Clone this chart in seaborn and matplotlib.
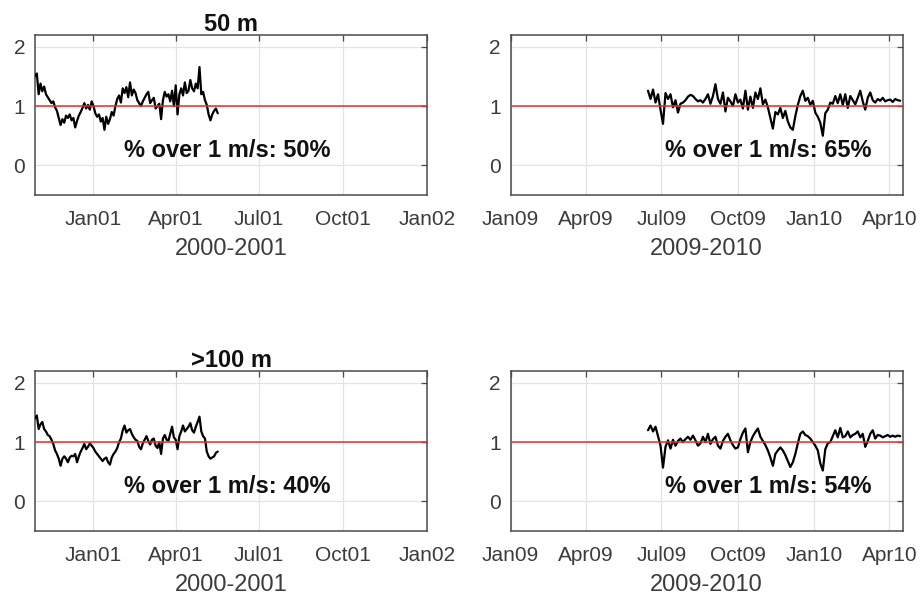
import numpy as np
import pandas as pd
import matplotlib
matplotlib.use("Agg")
import matplotlib.pyplot as plt
import matplotlib.dates as mdates
import seaborn as sns

# ---- data -----------------------------------------------------------------
# Current speed (m/s), 2000-2001 deployment, sampled every 2 days
start_2000 = "2000-10-29"
speed_50m_2000 = [
    1.50, 1.55, 1.20, 1.38, 1.25, 1.33, 1.20, 1.15, 1.10, 1.05,
    1.08, 0.98, 0.92, 0.80, 0.68, 0.78, 0.72, 0.84, 0.80, 0.86,
    0.76, 0.80, 0.64, 0.75, 0.84, 0.90, 0.97, 1.05, 0.96, 1.02,
    0.94, 1.08, 1.00, 0.88, 0.82, 0.86, 0.74, 0.80, 0.60, 0.82,
    0.70, 0.78, 0.90, 0.84, 1.00, 1.12, 1.18, 1.06, 1.30, 1.22,
    1.32, 1.15, 1.40, 1.18, 1.28, 1.22, 1.10, 1.05, 1.00, 1.08,
    1.14, 1.20, 1.24, 1.05, 1.10, 1.14, 0.96, 1.00, 1.04, 0.78,
    1.10, 1.24, 1.16, 1.20, 1.08, 1.26, 1.00, 1.35, 0.86, 1.20,
    1.30, 1.18, 1.40, 1.22, 1.26, 1.44, 1.30, 1.25, 1.38, 1.30,
    1.66, 1.20, 1.24, 1.10, 1.02, 0.86, 0.76, 0.86, 0.92, 0.96,
    0.88,
]
speed_100m_2000 = [
    1.40, 1.45, 1.22, 1.30, 1.34, 1.22, 1.18, 1.12, 1.10, 1.04,
    0.97, 0.86, 0.80, 0.72, 0.60, 0.72, 0.76, 0.72, 0.66, 0.74,
    0.77, 0.76, 0.80, 0.66, 0.76, 0.84, 0.90, 0.97, 0.88, 0.92,
    0.98, 0.94, 0.90, 0.84, 0.80, 0.76, 0.72, 0.68, 0.72, 0.74,
    0.66, 0.62, 0.74, 0.80, 0.84, 0.90, 1.00, 1.06, 1.20, 1.28,
    1.16, 1.20, 1.22, 1.14, 1.08, 1.04, 1.02, 0.92, 0.88, 0.98,
    1.04, 1.10, 1.02, 0.96, 1.04, 1.06, 0.94, 0.90, 1.00, 0.80,
    1.06, 1.12, 1.04, 1.02, 1.14, 1.26, 1.08, 1.04, 0.88, 1.10,
    1.18, 1.28, 1.18, 1.22, 1.26, 1.32, 1.20, 1.16, 1.26, 1.34,
    1.43, 1.18, 1.10, 1.06, 0.84, 0.76, 0.72, 0.74, 0.76, 0.82,
    0.84,
]

# Current speed (m/s), 2009-2010 deployment, sampled every 3 days
start_2009 = "2009-06-15"
speed_50m_2009 = [
    1.26, 1.12, 1.28, 1.06, 1.20, 0.94, 0.70, 1.22, 1.12, 1.20,
    0.98, 1.10, 0.89, 1.04, 1.06, 1.10, 1.16, 1.19, 1.17, 1.12,
    1.08, 1.10, 1.06, 1.12, 1.20, 1.04, 1.17, 1.37, 1.12, 1.04,
    1.23, 0.91, 1.14, 1.08, 1.00, 1.20, 1.06, 1.11, 0.96, 1.26,
    0.94, 1.16, 0.97, 1.23, 1.12, 1.30, 1.03, 1.11, 0.98, 0.80,
    0.62, 0.90, 0.86, 0.97, 0.80, 0.92, 0.74, 0.64, 0.60, 0.83,
    1.02, 1.17, 1.26, 1.09, 1.14, 1.02, 1.09, 0.89, 0.82, 0.72,
    0.50, 0.88, 0.94, 1.06, 1.04, 1.17, 1.05, 1.20, 1.02, 1.20,
    0.97, 1.17, 1.10, 1.03, 1.14, 1.26, 1.08, 0.94, 1.14, 1.23,
    1.10, 1.06, 1.12, 1.09, 1.14, 1.08, 1.10, 1.11, 1.07, 1.12,
    1.10, 1.09,
]
speed_100m_2009 = [
    1.20, 1.28, 1.18, 1.26, 1.10, 0.94, 0.57, 0.92, 1.03, 0.89,
    1.04, 0.94, 1.02, 1.06, 1.00, 1.05, 1.09, 1.04, 1.11, 1.03,
    0.94, 0.98, 1.09, 1.00, 1.14, 0.97, 1.05, 1.09, 0.94, 0.89,
    1.02, 1.09, 1.14, 1.03, 0.95, 0.89, 0.91, 1.05, 1.16, 1.23,
    0.83, 1.00, 1.10, 1.17, 1.23, 1.09, 1.02, 0.95, 0.86, 0.74,
    0.60, 0.80, 0.86, 0.91, 0.86, 0.78, 0.68, 0.58, 0.66, 0.80,
    0.98, 1.14, 1.18, 1.12, 1.10, 1.06, 1.00, 0.94, 0.86, 0.64,
    0.52, 0.88, 0.98, 1.00, 1.10, 1.20, 1.08, 1.24, 1.08, 1.10,
    1.18, 1.08, 1.12, 1.14, 1.18, 1.08, 1.14, 0.92, 1.02, 1.14,
    1.20, 1.06, 1.12, 1.11, 1.08, 1.10, 1.12, 1.09, 1.11, 1.09,
    1.11, 1.10,
]

depth_titles = ["50 m", ">100 m"]
period_labels = ["2000-2001", "2009-2010"]
percent_over = [[50, 65], [40, 54]]
threshold = 1.0

ticks_2000 = ["2001-01-01", "2001-04-01", "2001-07-01", "2001-10-01", "2002-01-01"]
ticks_2009 = ["2009-01-01", "2009-04-01", "2009-07-01", "2009-10-01", "2010-01-01", "2010-04-01"]
xlim_2000 = ("2000-10-29", "2002-01-01")
xlim_2009 = ("2009-01-01", "2010-04-17")
y_ticks = [0, 1, 2]
y_limits = (-0.5, 2.2)


def series(start, values, step):
    dates = pd.date_range(start, periods=len(values), freq=step)
    return pd.DataFrame({"date": dates, "speed": values})


panels = [
    [(series(start_2000, speed_50m_2000, "2D"), ticks_2000, xlim_2000),
     (series(start_2009, speed_50m_2009, "3D"), ticks_2009, xlim_2009)],
    [(series(start_2000, speed_100m_2000, "2D"), ticks_2000, xlim_2000),
     (series(start_2009, speed_100m_2009, "3D"), ticks_2009, xlim_2009)],
]

# ---- style ----------------------------------------------------------------
sns.set_style("white")
plt.rcParams["font.family"] = ["Liberation Sans", "DejaVu Sans"]

fig = plt.figure(figsize=(9.22, 5.98), dpi=100)

lefts = [35 / 922, 510.7 / 922]
width = 392 / 922
bottoms = [1 - 195 / 598, 1 - 531 / 598]
height = 160 / 598

tick_col = "#3c3c3c"
for r in range(2):
    for c in range(2):
        df, ticks, xlim = panels[r][c]
        ax = fig.add_axes([lefts[c], bottoms[r], width, height])
        sns.lineplot(data=df, x="date", y="speed", ax=ax, color="black",
                     linewidth=1.6, zorder=3)
        ax.axhline(threshold, color="#ee2a2a", linewidth=1.1, zorder=4)

        ax.set_xlim(pd.Timestamp(xlim[0]), pd.Timestamp(xlim[1]))
        ax.set_ylim(*y_limits)
        ax.set_xticks([pd.Timestamp(t) for t in ticks])
        ax.xaxis.set_major_formatter(mdates.DateFormatter("%b%y"))
        ax.set_yticks(y_ticks)

        ax.grid(True, color="#e4e4e4", linewidth=0.9, zorder=0)
        ax.set_axisbelow(True)
        for sp in ax.spines.values():
            sp.set_color("#4a4a4a")
            sp.set_linewidth(1.1)
        ax.tick_params(direction="in", top=True, right=True, length=4,
                       width=0.9, color="#4a4a4a", labelsize=15,
                       labelcolor=tick_col)
        ax.tick_params(axis="x", pad=11)
        ax.tick_params(axis="y", pad=7)

        ax.set_xlabel(period_labels[c], fontsize=17, color=tick_col, labelpad=6)
        ax.set_ylabel("")
        if c == 0:
            ax.set_title(depth_titles[r], fontsize=17, fontweight="bold",
                         color="#111111", pad=3)

        tx = 0.491 if c == 0 else 0.657
        ax.text(tx, 0.28, f"% over 1 m/s: {percent_over[r][c]}%",
                transform=ax.transAxes, ha="center", va="center",
                fontsize=17, fontweight="bold", color="#111111", zorder=5)

fig.savefig("out.png", dpi=100)
